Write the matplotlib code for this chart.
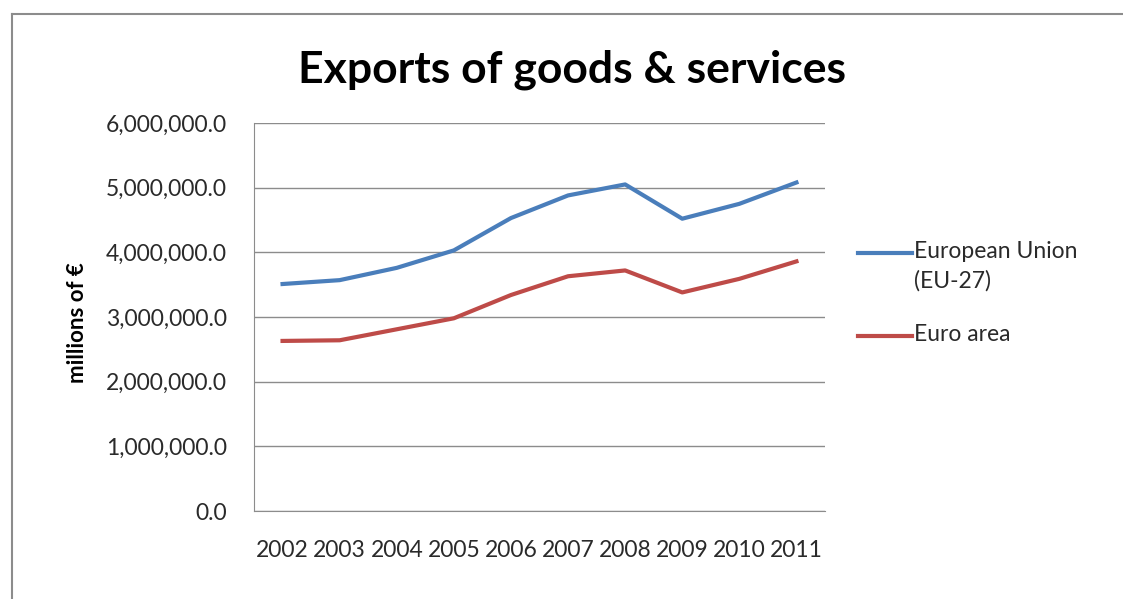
import matplotlib.pyplot as plt
from matplotlib.lines import Line2D
from matplotlib.ticker import FuncFormatter

years = ['2002', '2003', '2004', '2005', '2006', '2007', '2008', '2009', '2010', '2011']
eu27 = [3510000, 3570000, 3760000, 4030000, 4530000, 4880000, 5050000, 4520000, 4750000, 5080000]
euro_area = [2630000, 2640000, 2810000, 2980000, 3340000, 3630000, 3720000, 3380000, 3590000, 3860000]
series_names = ['European Union\n(EU-27)', 'Euro area']
series_colors = ['#4a7ebb', '#be4b48']

plt.rcParams['font.family'] = ['Lato', 'DejaVu Sans']

fig = plt.figure(figsize=(11.23, 5.99), dpi=100)
W, H = 1123, 599
ax = fig.add_axes([254 / W, 1 - 511 / H, (825 - 254) / W, (511 - 123) / H])

x = range(len(years))
for vals, c in zip([eu27, euro_area], series_colors):
    ax.plot(x, vals, color=c, linewidth=3)

ax.set_xlim(-0.5, len(years) - 0.5)
ax.set_ylim(0, 6000000)
ax.set_yticks(range(0, 6000001, 1000000))
ax.yaxis.set_major_formatter(FuncFormatter(lambda v, p: f'{v:,.1f}'))
ax.set_xticks(list(x))
ax.set_xticklabels(years)
ax.tick_params(axis='both', length=0, labelsize=16.5, colors='#2a2a2a')
ax.tick_params(axis='y', pad=19.5)
ax.tick_params(axis='x', pad=21)

ax.grid(axis='y', color='#8c8c8c', linewidth=1)
ax.set_axisbelow(True)
for s in ['top', 'right']:
    ax.spines[s].set_visible(False)
for s in ['left', 'bottom']:
    ax.spines[s].set_color('#8c8c8c')

fig.text(77 / W, 1 - 323 / H, 'millions of €', rotation=90, ha='center', va='center',
         fontsize=16, fontweight='bold')

fig.text(572 / W, 1 - 70 / H, 'Exports of goods & services', ha='center', va='center',
         fontsize=32, fontweight='bold')

# legend, Excel style: line level with the first text line
legend_y = [253, 336]
for name, c, ly in zip(series_names, series_colors, legend_y):
    fig.add_artist(Line2D([858 / W, 912 / W], [1 - ly / H, 1 - ly / H], color=c, linewidth=3))
    fig.text(914 / W, 1 - (ly - 12) / H, name, ha='left', va='top', fontsize=16.5,
             color='#2a2a2a', linespacing=1.45)

# outer chart frame
fig.add_artist(Line2D([12 / W, 12 / W], [0, 1 - 14 / H], color='#8c8c8c', linewidth=1.5))
fig.add_artist(Line2D([12 / W, 1], [1 - 14 / H, 1 - 14 / H], color='#8c8c8c', linewidth=1.5))

fig.savefig('out.png', dpi=100)
